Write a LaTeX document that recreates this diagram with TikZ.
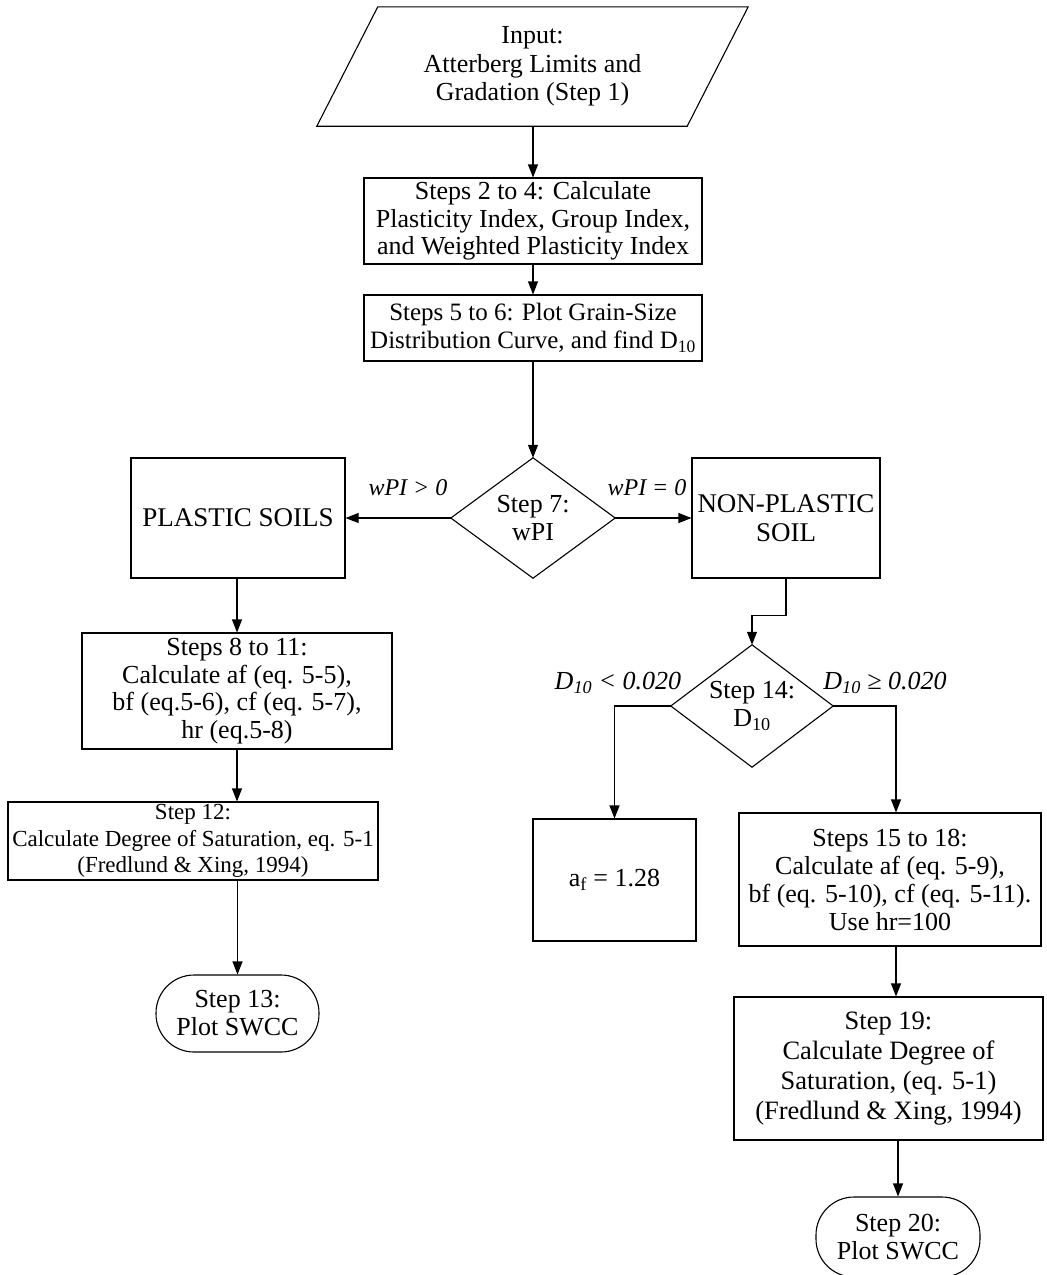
\documentclass[tikz,border=0pt]{standalone}
\usepackage{fontspec}
\setmainfont{Liberation Serif}
\usetikzlibrary{arrows.meta,calc}
\newcommand{\fs}[2]{\fontsize{#1}{#2}\selectfont}
\begin{document}
\begin{tikzpicture}[x=1pt,y=-1pt,
  every node/.style={font=\fs{26}{28}, align=center, inner sep=0pt},
  line/.style={line width=1.1pt, draw=black},
  box/.style={line, draw, rectangle},
  term/.style={line, draw, rectangle, rounded corners=38pt},
  arr/.style={line, -{Triangle[length=13pt,width=10pt]}},
  lab/.style={font=\fs{26}{28}\itshape}]
\fill[white] (0,0) rectangle (1047,1275);
\useasboundingbox (0,0) rectangle (1047,1275);

% input parallelogram
\node[minimum width=370, minimum height=119, font=\fs{26}{28.5}] (in) at (532.5,66.5) {Input:\\Atterberg Limits and\\Gradation (Step 1)};
\draw[line] ([xshift=30.5]in.north west) -- ([xshift=30.5]in.north east) -- ([xshift=-30.5]in.south east) -- ([xshift=-30.5]in.south west) -- cycle;

\node[box, minimum width=338, minimum height=86, font=\fs{26}{27.5}] (b2) at (533,221) {Steps 2 to 4: Calculate\\Plasticity Index, Group Index,\\and Weighted Plasticity Index};
\node[box, minimum width=338, minimum height=66, font=\fs{25}{28}] (b3) at (533,328) {Steps 5 to 6: Plot Grain-Size\\Distribution Curve, and find D\textsubscript{10}};

\node[minimum width=164, minimum height=120] (d1) at (533,518) {Step 7:\\wPI};
\draw[line] (d1.north) -- (d1.east) -- (d1.south) -- (d1.west) -- cycle;

\node[box, minimum width=214, minimum height=120, font=\fs{27}{29}] (pl) at (238,518) {PLASTIC SOILS};
\node[box, minimum width=188, minimum height=120, font=\fs{27}{29}] (np) at (786,518) {NON-PLASTIC\\SOIL};

\node[box, minimum width=310, minimum height=116, font=\fs{26}{27.5}] (b811) at (237,691) {Steps 8 to 11:\\Calculate af (eq. 5-5),\\bf (eq.5-6), cf (eq. 5-7),\\hr (eq.5-8)};
\node[box, minimum width=370, minimum height=78, font=\fs{23}{26.5}] (b12) at (193,841) {Step 12:\\Calculate Degree of Saturation, eq. 5-1\\(Fredlund \& Xing, 1994)};
\node[term, minimum width=163, minimum height=77] (t13) at (237.5,1013.5) {Step 13:\\Plot SWCC};

\node[minimum width=162, minimum height=122] (d2) at (752,706) {Step 14:\\D\textsubscript{10}};
\draw[line] (d2.north) -- (d2.east) -- (d2.south) -- (d2.west) -- cycle;

\node[box, minimum width=163, minimum height=122] (af) at (614.5,880) {a\textsubscript{f} = 1.28};
\node[box, minimum width=302, minimum height=133] (b1518) at (890,879.5) {Steps 15 to 18:\\Calculate af (eq. 5-9),\\bf (eq. 5-10), cf (eq. 5-11).\\Use hr=100};
\node[box, minimum width=309, minimum height=143, font=\fs{26.5}{30}] (b19) at (888.5,1068.5) {Step 19:\\Calculate Degree of\\Saturation, (eq. 5-1)\\(Fredlund \& Xing, 1994)};
\node[term, minimum width=164, minimum height=80] (t20) at (898,1237) {Step 20:\\Plot SWCC};

% labels
\node[lab, font=\fs{24}{28}\itshape] (l1) at (408,488) {wPI > 0};
\node[lab, font=\fs{24}{28}\itshape] (l2) at (647,488) {wPI = 0};
\node[lab] (l3) at (618,683) {D\textsubscript{10} < 0.020};
\node[lab] (l4) at (885,683) {D\textsubscript{10} ≥ 0.020};

% connectors
\draw[arr] (in.south -| b2.north) -- (b2.north);
\draw[arr] (b2.south) -- (b3.north);
\draw[arr] (b3.south) -- (d1.north);
\draw[arr] (d1.west) -- (pl.east);
\draw[arr] (d1.east) -- (np.west);
\draw[arr] (pl.south -| b811.north) -- (b811.north);
\draw[arr] (b811.south) -- (b811.south |- b12.north);
\draw[arr] (b12.south -| t13.north) -- (t13.north);
\draw[arr] (np.south) -- ++(0,37) -| (d2.north);
\draw[arr] (d2.west) -| (af.north);
\draw[arr] (d2.east) -| ([xshift=6]b1518.north);
\draw[arr] ([xshift=6]b1518.south) -- ([xshift=6]b1518.south |- b19.north);
\draw[arr] (b19.south -| t20.north) -- (t20.north);
\end{tikzpicture}
\end{document}
